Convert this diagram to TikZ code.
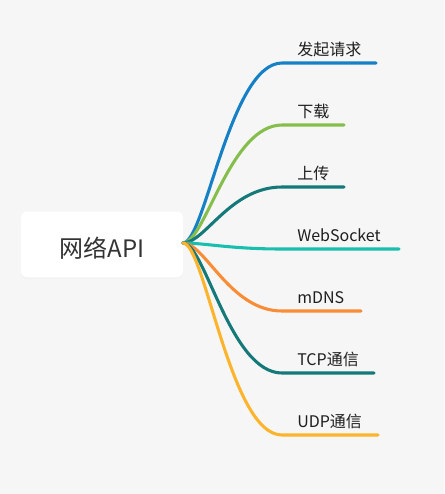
\documentclass[tikz,border=0pt]{standalone}
\usepackage{fontspec}
\setmainfont{Noto Sans CJK SC}
\usetikzlibrary{shadows}
\definecolor{bg}{HTML}{F6F6F6}
\definecolor{cblue}{HTML}{1580C6}
\definecolor{cgreen}{HTML}{86BE4B}
\definecolor{cteal}{HTML}{15797A}
\definecolor{cturq}{HTML}{18BEAE}
\definecolor{corange}{HTML}{F98C35}
\definecolor{cyellow}{HTML}{FBB42B}
\definecolor{txt}{HTML}{1E1E1E}
\definecolor{roottxt}{HTML}{333333}
\tikzset{
  rootbox/.style={fill=white, rounded corners=4.5pt, minimum width=121.5pt, minimum height=49.5pt,
    text height=18.75pt, text depth=0pt, inner sep=0pt, font=\fontsize{18pt}{20pt}\selectfont, text=roottxt,
    drop shadow={opacity=0.06, shadow xshift=0pt, shadow yshift=-0.8pt}},
  lbl/.style={anchor=base west, inner sep=0pt, font=\fontsize{12pt}{14pt}\selectfont, text=txt},
  br/.style={line width=2.3pt, line cap=round}
}
\begin{document}
\begin{tikzpicture}[x=0.75pt,y=-0.75pt]
\fill[bg] (0,0) rectangle (444,494);
\useasboundingbox (0,0) rectangle (444,494);
\node[rootbox] (root) at (102,244.5) {网络API};
\coordinate (o) at (183,243);
% labels
\node[lbl] (l1) at (297,55) {发起请求};
\node[lbl] (l2) at (297,117) {下载};
\node[lbl] (l3) at (297,179) {上传};
\node[lbl] (l4) at (297,241) {WebSocket};
\node[lbl] (l5) at (297,303) {mDNS};
\node[lbl] (l6) at (297,365) {TCP通信};
\node[lbl] (l7) at (297,427) {UDP通信};
% curve ends and line ends
\coordinate (e1) at (282,63);  \coordinate (f1) at (376,63);
\coordinate (e2) at (282,125); \coordinate (f2) at (344,125);
\coordinate (e3) at (282,187); \coordinate (f3) at (344,187);
\coordinate (e4) at (282,249); \coordinate (f4) at (399,249);
\coordinate (e5) at (282,311); \coordinate (f5) at (361,311);
\coordinate (e6) at (282,373); \coordinate (f6) at (374,373);
\coordinate (e7) at (282,435); \coordinate (f7) at (378,435);
\draw[br, cblue]   (o) .. controls +(22,0) and +(-52,0) .. (e1) -- (f1);
\draw[br, cgreen]  (o) .. controls +(22,0) and +(-52,0) .. (e2) -- (f2);
\draw[br, cteal]   (o) .. controls +(22,0) and +(-52,0) .. (e3) -- (f3);
\draw[br, cturq]   (o) .. controls +(22,0) and +(-52,0) .. (e4) -- (f4);
\draw[br, corange] (o) .. controls +(22,0) and +(-52,0) .. (e5) -- (f5);
\draw[br, cteal]   (o) .. controls +(22,0) and +(-52,0) .. (e6) -- (f6);
\draw[br, cyellow] (o) .. controls +(22,0) and +(-52,0) .. (e7) -- (f7);
\end{tikzpicture}
\end{document}
